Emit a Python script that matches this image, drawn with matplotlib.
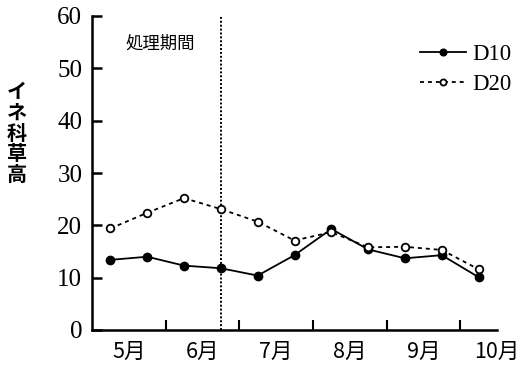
import matplotlib
matplotlib.use("Agg")
import matplotlib.pyplot as plt

plt.rcParams["font.family"] = ["Liberation Serif", "Noto Sans CJK JP"]

# Survey timing expressed as months elapsed since 1 May
survey_pos = [0.25, 0.75, 1.25, 1.75, 2.25, 2.75, 3.25, 3.75, 4.25, 4.75, 5.25]
d10 = [13.4, 14.0, 12.3, 11.8, 10.4, 14.3, 19.3, 15.4, 13.7, 14.3, 10.1]
d20 = [19.4, 22.4, 25.2, 23.1, 20.7, 17.1, 18.7, 15.8, 15.9, 15.3, 11.6]

month_labels = ["5月", "6月", "7月", "8月", "9月", "10月"]
month_starts = [1, 2, 3, 4, 5]
treatment_end = 1.75

cjk = ["Noto Sans CJK JP", "DejaVu Sans"]

fig = plt.figure(figsize=(5.21, 3.72), dpi=100)
ax = fig.add_axes([92 / 521, 42 / 372, (497 - 92) / 521, (330 - 16) / 372])

ax.plot(survey_pos, d10, color="black", lw=1.3, ls="-", marker="o",
        ms=6, mfc="black", mec="black", label="D10", zorder=3)
ax.plot(survey_pos, d20, color="black", lw=1.3, ls=(0, (2.2, 2.2)), marker="o",
        ms=5.5, mfc="white", mec="black", mew=1.3, label="D20", zorder=4)

ax.axvline(treatment_end, color="black", lw=1.4, ls=(0, (1, 1)), zorder=2)
ax.text(0.45, 54.8, "処理期間", fontsize=12.5, family=cjk, ha="left", va="center")

ax.set_xlim(0, 5.5)
ax.set_ylim(0, 60)

for s in ("top", "right"):
    ax.spines[s].set_visible(False)
for s in ("left", "bottom"):
    ax.spines[s].set_linewidth(1.8)

ax.set_yticks([0, 10, 20, 30, 40, 50, 60])
ax.tick_params(axis="y", direction="in", length=7, width=1.8, pad=7,
               labelsize=18)

ax.set_xticks(month_starts)
ax.set_xticklabels([])
ax.tick_params(axis="x", which="major", direction="in", length=7, width=1.5)
ax.set_xticks([m + 0.5 for m in range(len(month_labels))], minor=True)
ax.set_xticklabels(month_labels, minor=True, family=cjk, fontsize=15.5)
ax.tick_params(axis="x", which="minor", length=0, pad=8)

fig.text(17 / 521, (372 - 133) / 372, "イ\nネ\n科\n草\n高",
         fontsize=14.5, family=cjk, fontweight="bold",
         ha="center", va="center", linespacing=0.98)

leg = fig.legend(*ax.get_legend_handles_labels(), loc="upper left",
                 bbox_to_anchor=(420 / 521, (372 - 44) / 372), frameon=False,
                 borderpad=0, borderaxespad=0, markerscale=0.8,
                 handlelength=2.0, handletextpad=0.3, labelspacing=0.4,
                 prop={"size": 16.5})

fig.savefig("out.png", dpi=100)
